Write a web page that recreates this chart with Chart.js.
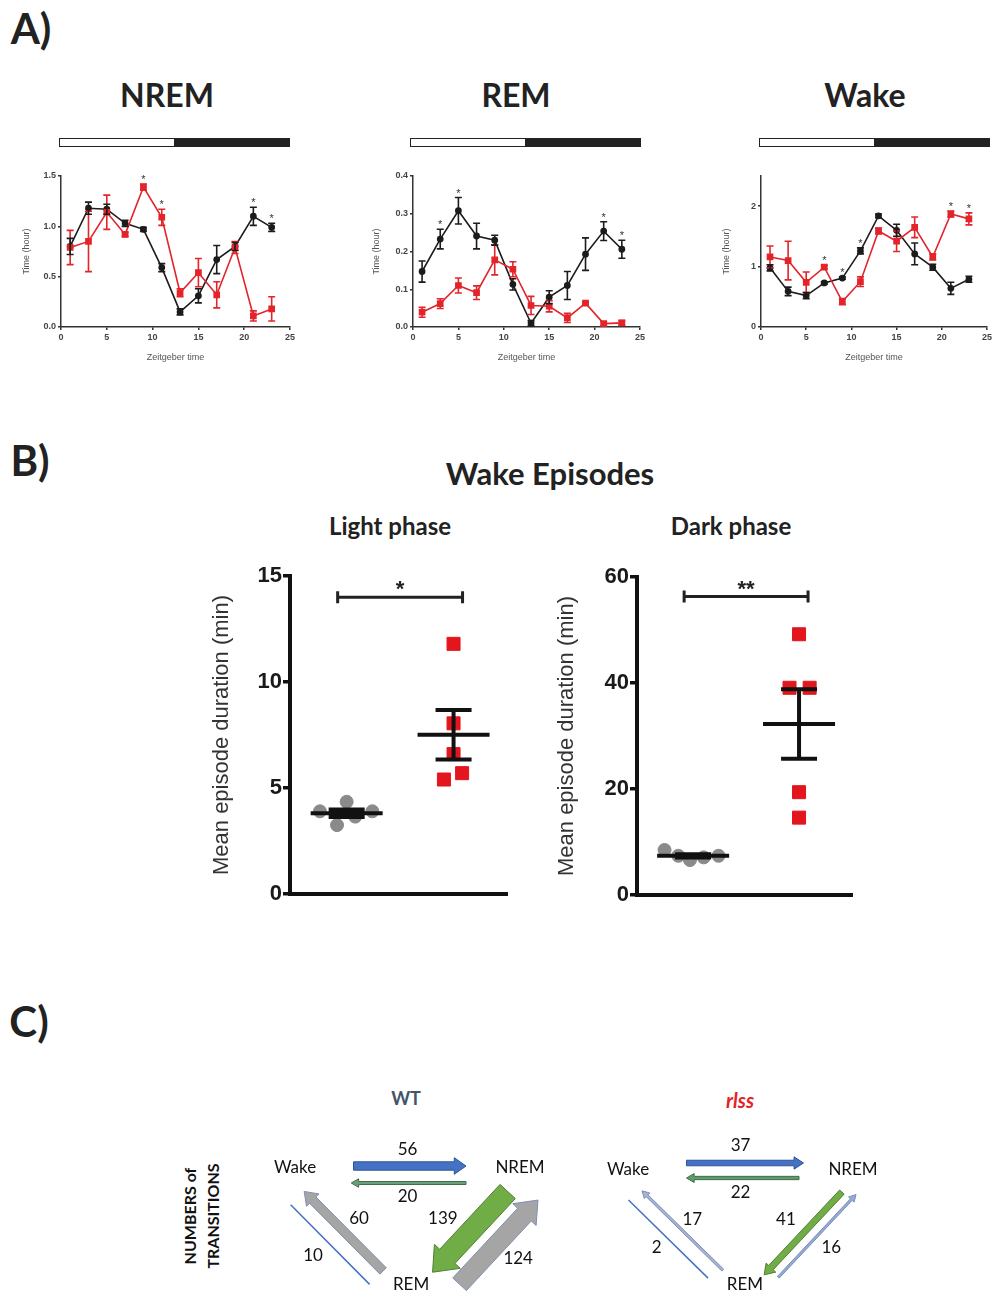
<!DOCTYPE html>
<html>
<head>
<meta charset="utf-8">
<script src="https://cdn.jsdelivr.net/npm/chart.js@4.4.1/dist/chart.umd.min.js"></script>
<style>
body { margin: 0; background: #fff; width: 994px; height: 1293px; position: relative; overflow: hidden; font-family: Lato, sans-serif; }
canvas { position: absolute; }
.txt { position: absolute; transform: translate(-50%, -50%); line-height: 1; white-space: nowrap; color: #222; }
.letter { font-weight: bold; font-size: 42px; }
.ptitle { font-weight: bold; font-size: 32px; }
.sub { font-weight: bold; font-size: 24px; }
.ldbar { position: absolute; height: 7px; border: 1.5px solid #222; background: linear-gradient(to right, #fff 50%, #222 50%); }
</style>
</head>
<body>

<div class="txt letter" style="left:31px;top:28px">A)</div>
<div class="txt ptitle" style="left:167px;top:95px">NREM</div>
<div class="txt ptitle" style="left:516px;top:95px">REM</div>
<div class="txt ptitle" style="left:865px;top:95px">Wake</div>
<div class="ldbar" style="left:59px;top:138px;width:229px"></div>
<div class="ldbar" style="left:410px;top:138px;width:229px"></div>
<div class="ldbar" style="left:759px;top:138px;width:229px"></div>

<canvas id="nremChart" width="300" height="205" style="left:0;top:166px"></canvas>
<canvas id="remChart" width="300" height="205" style="left:350px;top:166px"></canvas>
<canvas id="wakeChart" width="294" height="205" style="left:700px;top:166px"></canvas>

<div class="txt letter" style="left:30px;top:460px">B)</div>
<div class="txt" style="left:550px;top:473px;font-weight:bold;font-size:31px">Wake Episodes</div>
<div class="txt sub" style="left:390px;top:526px">Light phase</div>
<div class="txt sub" style="left:731px;top:526px">Dark phase</div>

<canvas id="lightChart" width="320" height="360" style="left:200px;top:560px"></canvas>
<canvas id="darkChart" width="320" height="360" style="left:545px;top:560px"></canvas>

<div class="txt letter" style="left:29px;top:1021px">C)</div>
<div class="txt" style="left:406px;top:1098px;font-weight:bold;font-size:18px;color:#44546A">WT</div>
<div class="txt" style="left:740px;top:1100px;font-weight:bold;font-style:italic;font-size:20px;color:#E3242B">rlss</div>
<div class="txt" style="left:201px;top:1216px;transform:translate(-50%,-50%) rotate(-90deg);font-weight:bold;font-size:16px;line-height:23px;text-align:center;color:#111">NUMBERS of<br>TRANSITIONS</div>

<canvas id="wtDiagram" width="340" height="213" style="left:240px;top:1080px"></canvas>
<canvas id="rlssDiagram" width="340" height="213" style="left:580px;top:1080px"></canvas>

<script>
// A) time spent per 2h bin, WT (black) vs rlss (red)
const zt = [1, 3, 5, 7, 9, 11, 13, 15, 17, 19, 21, 23];

const nremWT = [0.80, 1.18, 1.17, 1.03, 0.97, 0.59, 0.15, 0.31, 0.67, 0.80, 1.10, 0.99];
const nremWTErr = [0.08, 0.06, 0.05, 0.03, 0.02, 0.04, 0.03, 0.07, 0.14, 0.04, 0.09, 0.04];
const nremRlss = [0.79, 0.85, 1.14, 0.92, 1.39, 1.09, 0.34, 0.54, 0.32, 0.79, 0.11, 0.18];
const nremRlssErr = [0.17, 0.30, 0.17, 0.02, 0.03, 0.08, 0.04, 0.14, 0.13, 0.06, 0.05, 0.12];
const nremStars = [9, 11, 21, 23];

const remWT = [0.147, 0.233, 0.308, 0.241, 0.230, 0.113, 0.010, 0.079, 0.110, 0.193, 0.254, 0.206];
const remWTErr = [0.028, 0.026, 0.035, 0.034, 0.013, 0.015, 0.007, 0.017, 0.037, 0.043, 0.025, 0.024];
const remRlss = [0.039, 0.062, 0.110, 0.091, 0.178, 0.153, 0.057, 0.055, 0.024, 0.063, 0.009, 0.011];
const remRlssErr = [0.013, 0.013, 0.020, 0.018, 0.040, 0.020, 0.024, 0.015, 0.012, 0.003, 0.005, 0.006];
const remStars = [3, 5, 21, 23];

const wakeWT = [0.98, 0.59, 0.52, 0.73, 0.81, 1.26, 1.84, 1.60, 1.21, 0.99, 0.64, 0.79];
const wakeWTErr = [0.05, 0.07, 0.05, 0.02, 0.02, 0.05, 0.03, 0.10, 0.18, 0.05, 0.10, 0.05];
const wakeRlss = [1.16, 1.10, 0.74, 0.99, 0.42, 0.75, 1.59, 1.42, 1.65, 1.16, 1.87, 1.79];
const wakeRlssErr = [0.18, 0.32, 0.17, 0.03, 0.05, 0.08, 0.05, 0.17, 0.17, 0.05, 0.05, 0.10];
const wakeStars = [7, 9, 11, 21, 23];

// B) wake episode duration per animal (x = group 1/2 plus jitter)
const lightWT = [3.9, 3.25, 4.35, 3.65, 3.9];
const lightWTX = [0.75, 0.91, 1.0, 1.08, 1.24];
const lightRlss = [11.8, 8.05, 6.6, 5.7, 5.4];
const lightRlssX = [2.0, 2.0, 2.0, 2.08, 1.91];

const darkWT = [8.5, 7.4, 6.6, 7.1, 7.4];
const darkWTX = [0.73, 0.86, 0.97, 1.1, 1.24];
const darkRlss = [49.2, 39.1, 39.1, 19.4, 14.6];
const darkRlssX = [2.0, 1.91, 2.1, 2.0, 2.0];

// C) numbers of transitions between states
const stateNames = ['Wake', 'NREM', 'REM'];
const transFrom = [0, 1, 1, 2, 2, 0];
const transTo = [1, 0, 2, 1, 0, 2];
const wtCounts = [56, 20, 139, 124, 60, 10];
const rlssCounts = [37, 22, 41, 16, 17, 2];

var RED = '#e3242b';
var BLACK = '#1c1c1c';
var tickFont = { family: 'Liberation Sans, Arial', size: 9, weight: 'bold' };

// error bars for panel A
var errorBars = {
    id: 'errorBars',
    afterDatasetsDraw: function(chart) {
        var ctx = chart.ctx;
        var y = chart.scales.y;
        chart.data.datasets.forEach(function(ds, i) {
            if (!ds.errors) return;
            var meta = chart.getDatasetMeta(i);
            ctx.save();
            ctx.strokeStyle = ds.borderColor;
            ctx.lineWidth = 1.6;
            meta.data.forEach(function(p, j) {
                var v = ds.data[j].y, e = ds.errors[j];
                var top = y.getPixelForValue(v + e), bot = y.getPixelForValue(v - e);
                ctx.beginPath();
                ctx.moveTo(p.x, top); ctx.lineTo(p.x, bot);
                ctx.moveTo(p.x - 3.5, top); ctx.lineTo(p.x + 3.5, top);
                ctx.moveTo(p.x - 3.5, bot); ctx.lineTo(p.x + 3.5, bot);
                ctx.stroke();
            });
            ctx.restore();
        });
    }
};

// asterisks above the significant bins
function starMarks(xs) {
    return {
        id: 'starMarks',
        afterDatasetsDraw: function(chart) {
            var ctx = chart.ctx;
            ctx.save();
            ctx.fillStyle = '#333';
            ctx.font = '11px "Liberation Sans", Arial';
            ctx.textAlign = 'center';
            ctx.textBaseline = 'alphabetic';
            xs.forEach(function(x) {
                var i = zt.indexOf(x);
                var top = -Infinity;
                chart.data.datasets.forEach(function(ds) {
                    top = Math.max(top, ds.data[i].y + ds.errors[i]);
                });
                ctx.fillText('*', chart.scales.x.getPixelForValue(x), chart.scales.y.getPixelForValue(top) - 1);
            });
            ctx.restore();
        }
    };
}

function timeChart(id, wt, wtErr, rl, rlErr, stars, yMax, yStep, yDec, yWidth, padRight) {
    var ctx = document.getElementById(id).getContext('2d');
    return new Chart(ctx, {
        type: 'line',
        data: {
            datasets: [{
                label: 'rlss',
                data: zt.map(function(x, i) { return { x: x, y: rl[i] }; }),
                errors: rlErr,
                borderColor: RED,
                backgroundColor: RED,
                pointStyle: 'rect',
                pointRadius: 3.6,
                borderWidth: 1.6,
                tension: 0
            }, {
                label: 'WT',
                data: zt.map(function(x, i) { return { x: x, y: wt[i] }; }),
                errors: wtErr,
                borderColor: BLACK,
                backgroundColor: BLACK,
                pointRadius: 2.6,
                borderWidth: 1.6,
                tension: 0
            }]
        },
        options: {
            responsive: false,
            animation: false,
            devicePixelRatio: 1,
            layout: { padding: { top: 10, right: padRight, left: 0, bottom: 0 } },
            plugins: { legend: { display: false }, tooltip: { enabled: false } },
            scales: {
                x: {
                    type: 'linear', min: 0, max: 25,
                    ticks: { stepSize: 5, font: tickFont, color: '#444', padding: 2, maxRotation: 0 },
                    grid: { drawOnChartArea: false, tickLength: 3, color: '#333', lineWidth: 1.5 },
                    border: { color: '#333', width: 1.5 },
                    title: { display: true, text: 'Zeitgeber time', font: { family: 'Liberation Sans, Arial', size: 9 }, color: '#555', padding: { top: 0, bottom: 8 } },
                    afterFit: function(s) { s.height = 44; }
                },
                y: {
                    min: 0, max: yMax,
                    ticks: { stepSize: yStep, includeBounds: false, font: tickFont, color: '#444', padding: 2,
                        callback: function(v) { return v.toFixed(yDec); } },
                    grid: { drawOnChartArea: false, tickLength: 3, color: '#333', lineWidth: 1.5 },
                    border: { color: '#333', width: 1.5 },
                    title: { display: true, text: 'Time (hour)', font: { family: 'Liberation Sans, Arial', size: 9 }, color: '#555', padding: { top: 21, bottom: 0 } },
                    afterFit: function(s) { s.width = yWidth; }
                }
            }
        },
        plugins: [errorBars, starMarks(stars)]
    });
}

var nremChart = timeChart('nremChart', nremWT, nremWTErr, nremRlss, nremRlssErr, nremStars, 1.5, 0.5, 1, 61, 10);
var remChart = timeChart('remChart', remWT, remWTErr, remRlss, remRlssErr, remStars, 0.4, 0.1, 1, 63, 10);
var wakeChart = timeChart('wakeChart', wakeWT, wakeWTErr, wakeRlss, wakeRlssErr, wakeStars, 2.5, 1, 0, 61, 7);

// B) mean +/- SEM and the significance bracket
function meanSem(vals) {
    var m = vals.reduce(function(a, b) { return a + b; }, 0) / vals.length;
    var ss = vals.reduce(function(a, b) { return a + (b - m) * (b - m); }, 0);
    return { mean: m, sem: Math.sqrt(ss / (vals.length - 1)) / Math.sqrt(vals.length) };
}

function summaryMarks(bracketVal, label) {
    return {
        id: 'summaryMarks',
        afterDatasetsDraw: function(chart) {
            var ctx = chart.ctx, xs = chart.scales.x, ys = chart.scales.y;
            ctx.save();
            ctx.strokeStyle = '#111';
            ctx.lineWidth = 4;
            chart.data.datasets.forEach(function(ds) {
                var s = meanSem(ds.data.map(function(p) { return p.y; }));
                var cx = xs.getPixelForValue(ds.group);
                var ym = ys.getPixelForValue(s.mean);
                var yt = ys.getPixelForValue(s.mean + s.sem);
                var yb = ys.getPixelForValue(s.mean - s.sem);
                ctx.beginPath();
                ctx.moveTo(cx - 36, ym); ctx.lineTo(cx + 36, ym);
                ctx.moveTo(cx, yt); ctx.lineTo(cx, yb);
                ctx.moveTo(cx - 18, yt); ctx.lineTo(cx + 18, yt);
                ctx.moveTo(cx - 18, yb); ctx.lineTo(cx + 18, yb);
                ctx.stroke();
            });
            var x1 = xs.getPixelForValue(1) - 9, x2 = xs.getPixelForValue(2) + 9;
            var by = ys.getPixelForValue(bracketVal);
            ctx.strokeStyle = '#222';
            ctx.lineWidth = 3;
            ctx.beginPath();
            ctx.moveTo(x1, by - 6); ctx.lineTo(x1, by + 6);
            ctx.moveTo(x2, by - 6); ctx.lineTo(x2, by + 6);
            ctx.moveTo(x1, by); ctx.lineTo(x2, by);
            ctx.stroke();
            ctx.fillStyle = '#222';
            ctx.font = 'bold 22px "Liberation Sans", Arial';
            ctx.textAlign = 'center';
            ctx.fillText(label, (x1 + x2) / 2, by - 1);
            ctx.restore();
        }
    };
}

function episodeChart(id, wtY, wtX, rlY, rlX, yMax, yStep, yWidth, padTop, xHeight, bracketVal, label) {
    var ctx = document.getElementById(id).getContext('2d');
    return new Chart(ctx, {
        type: 'scatter',
        data: {
            datasets: [{
                label: 'WT',
                group: 1,
                data: wtY.map(function(v, i) { return { x: wtX[i], y: v }; }),
                backgroundColor: '#8a8a8a',
                borderColor: '#8a8a8a',
                pointRadius: 6.5
            }, {
                label: 'rlss',
                group: 2,
                data: rlY.map(function(v, i) { return { x: rlX[i], y: v }; }),
                backgroundColor: '#e3161d',
                borderColor: '#e3161d',
                pointStyle: 'rect',
                pointRadius: 9.2
            }]
        },
        options: {
            responsive: false,
            animation: false,
            devicePixelRatio: 1,
            layout: { padding: { top: padTop, right: 13, left: 0, bottom: 0 } },
            plugins: { legend: { display: false }, tooltip: { enabled: false } },
            scales: {
                x: {
                    type: 'linear', min: 0.47, max: 2.5,
                    ticks: { display: false },
                    grid: { display: false },
                    border: { color: '#111', width: 4 },
                    afterFit: function(s) { s.height = xHeight; }
                },
                y: {
                    min: 0, max: yMax,
                    ticks: { stepSize: yStep, font: { family: 'Liberation Sans, Arial', size: 22, weight: 'bold' }, color: '#1a1a1a', padding: 1 },
                    grid: { drawOnChartArea: false, tickLength: 7, color: '#111', lineWidth: 3.5 },
                    border: { color: '#111', width: 4 },
                    title: { display: true, text: 'Mean episode duration (min)', font: { family: 'Liberation Sans, Arial', size: 22 }, color: '#333', padding: { top: 9, bottom: 0 } },
                    afterFit: function(s) { s.width = yWidth; }
                }
            }
        },
        plugins: [summaryMarks(bracketVal, label)]
    });
}

var lightChart = episodeChart('lightChart', lightWT, lightWTX, lightRlss, lightRlssX, 15, 5, 90, 16, 26, 14.0, '*');
var darkChart = episodeChart('darkChart', darkWT, darkWTX, darkRlss, darkRlssX, 60, 20, 92, 17, 25, 56.3, '**');

// C) transition diagrams, arrow width follows the count
// per transition: [start, end, shift, label pos, label shift]
var wtLayout = [[0.26, 0.76, -2, 0.5, -18], [0.24, 0.75, -15, 0.5, -29], [0.16, 0.85, -7, 0.56, 22],
                [0.21, 0.93, 35, 0.58, 60], [0.18, 0.86, -10, 0.51, 10], [0.14, 0.82, 29, 0.455, 49]];
var rlssLayout = [[0.26, 0.78, -7, 0.5, -24], [0.24, 0.74, -8, 0.5, -23], [0.15, 0.87, -7, 0.52, 15],
                  [0.18, 0.9, 19, 0.55, 37], [0.16, 0.85, -5, 0.51, 10], [0.13, 0.81, 21, 0.455, 35]];
var wtFill = ['#4472C4', '#6a9f7c', '#70AD47', '#A5A5A5', '#A5A5A5', '#4472C4'];
var rlssFill = ['#4472C4', '#5f9a6d', '#70AD47', '#8FAADC', '#A4B2D8', '#4472C4'];
var arrowStroke = ['#2F5597', '#3e6e4a', '#507E32', '#7F8FB0', '#7F8FB0', '#2F5597'];

function along(P, Q, t, off) {
    var dx = Q.x - P.x, dy = Q.y - P.y, L = Math.hypot(dx, dy);
    var ux = dx / L, uy = dy / L;
    return { x: P.x + ux * t * L - uy * off, y: P.y + uy * t * L + ux * off };
}

function drawArrow(ctx, a, b, w, fill, stroke) {
    var dx = b.x - a.x, dy = b.y - a.y, len = Math.hypot(dx, dy);
    var ux = dx / len, uy = dy / len, nx = -uy, ny = ux;
    if (w < 2) {
        ctx.strokeStyle = fill;
        ctx.lineWidth = 1.5;
        ctx.beginPath(); ctx.moveTo(a.x, a.y); ctx.lineTo(b.x, b.y); ctx.stroke();
        return;
    }
    var hw = w / 2, headW = hw * 1.5 + 2, headL = w * 0.8 + 5;
    var bx = b.x - ux * headL, by = b.y - uy * headL;
    ctx.beginPath();
    ctx.moveTo(a.x + nx * hw, a.y + ny * hw);
    ctx.lineTo(bx + nx * hw, by + ny * hw);
    ctx.lineTo(bx + nx * headW, by + ny * headW);
    ctx.lineTo(b.x, b.y);
    ctx.lineTo(bx - nx * headW, by - ny * headW);
    ctx.lineTo(bx - nx * hw, by - ny * hw);
    ctx.lineTo(a.x - nx * hw, a.y - ny * hw);
    ctx.closePath();
    ctx.fillStyle = fill;
    ctx.fill();
    ctx.strokeStyle = stroke;
    ctx.lineWidth = 1;
    ctx.stroke();
}

function transitionMarks(counts, layout, fills) {
    return {
        id: 'transitionMarks',
        afterDraw: function(chart) {
            var ctx = chart.ctx;
            var nodes = chart.getDatasetMeta(0).data.map(function(p) { return { x: p.x, y: p.y }; });
            ctx.save();
            ctx.font = '17px Lato';
            ctx.textAlign = 'center';
            ctx.textBaseline = 'middle';
            counts.forEach(function(c, i) {
                var P = nodes[transFrom[i]], Q = nodes[transTo[i]], L = layout[i];
                var w = Math.max(1, c * 0.15);
                drawArrow(ctx, along(P, Q, L[0], L[2]), along(P, Q, L[1], L[2]), w, fills[i], arrowStroke[i]);
                var lp = along(P, Q, L[3], L[4]);
                ctx.fillStyle = '#111';
                ctx.fillText(String(c), lp.x, lp.y);
            });
            ctx.fillStyle = '#111';
            nodes.forEach(function(n, k) { ctx.fillText(stateNames[k], n.x, n.y); });
            ctx.restore();
        }
    };
}

function diagram(id, nodeX, counts, layout, fills, pad) {
    var ctx = document.getElementById(id).getContext('2d');
    return new Chart(ctx, {
        type: 'scatter',
        data: {
            datasets: [{
                data: stateNames.map(function(n, k) { return { x: nodeX[k], y: k < 2 ? 1 : 0 }; }),
                pointRadius: 0
            }]
        },
        options: {
            responsive: false,
            animation: false,
            devicePixelRatio: 1,
            layout: { padding: pad },
            plugins: { legend: { display: false }, tooltip: { enabled: false } },
            scales: {
                x: { display: false, min: 0, max: 1 },
                y: { display: false, min: 0, max: 1 }
            }
        },
        plugins: [transitionMarks(counts, layout, fills)]
    });
}

var wtDiagram = diagram('wtDiagram', [0, 1, 0.516], wtCounts, wtLayout, wtFill, { left: 55, right: 60, top: 88, bottom: 8 });
var rlssDiagram = diagram('rlssDiagram', [0, 1, 0.52], rlssCounts, rlssLayout, rlssFill, { left: 48, right: 67, top: 90, bottom: 8 });
</script>
</body>
</html>
